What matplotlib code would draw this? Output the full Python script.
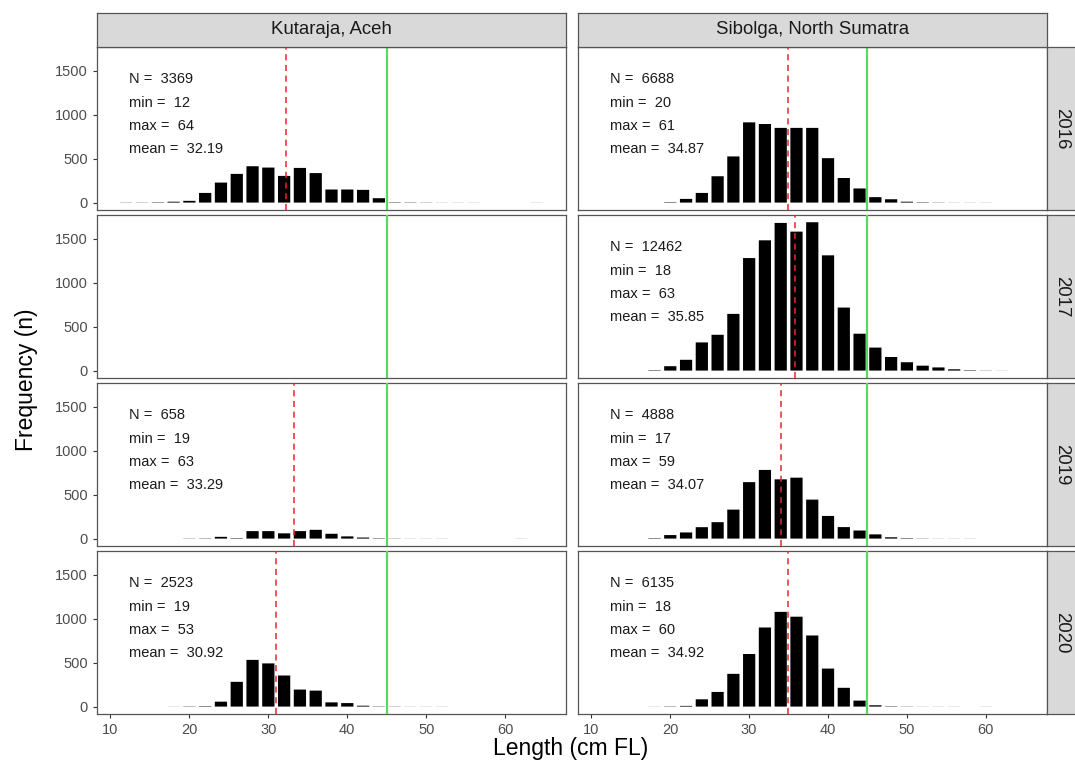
import matplotlib.pyplot as plt

plt.rcParams['font.family'] = ['Liberation Sans', 'DejaVu Sans']

W, H = 1075, 769

sites = ["Kutaraja, Aceh", "Sibolga, North Sumatra"]
years = ["2016", "2017", "2019", "2020"]

# 2 cm length classes, mid points 12 .. 64
bin_mids = list(range(12, 66, 2))

kutaraja_2016 = [2, 2, 4, 10, 20, 110, 228, 327, 414, 399, 304, 395, 336, 149,
                 149, 145, 50, 4, 3, 2, 1, 1, 1, 0, 0, 0, 1]
kutaraja_2017 = []
kutaraja_2019 = [0, 0, 0, 0, 2, 3, 20, 5, 85, 85, 60, 85, 100, 55,
                 25, 12, 4, 2, 1, 1, 1, 0, 0, 0, 0, 1, 0]
kutaraja_2020 = [0, 0, 0, 1, 3, 5, 56, 282, 532, 492, 354, 194, 182, 48,
                 40, 10, 3, 2, 1, 1, 1, 0, 0, 0, 0, 0, 0]
sibolga_2016 = [0, 0, 0, 0, 5, 42, 110, 300, 526, 914, 895, 851, 851, 851,
                506, 280, 161, 62, 38, 10, 4, 2, 1, 1, 1, 0, 0]
sibolga_2017 = [0, 0, 0, 5, 50, 123, 321, 408, 646, 1282, 1484, 1682, 1583, 1690,
                1313, 718, 420, 262, 155, 95, 56, 36, 15, 5, 2, 1, 0]
sibolga_2019 = [0, 0, 0, 5, 40, 70, 130, 187, 330, 643, 782, 675, 694, 444,
                258, 131, 92, 48, 15, 5, 2, 1, 1, 1, 0, 0, 0]
sibolga_2020 = [0, 0, 0, 1, 3, 8, 83, 167, 373, 599, 901, 1079, 1024, 810,
                433, 214, 68, 15, 4, 2, 1, 1, 1, 0, 1, 0, 0]

counts = {
    (0, 0): kutaraja_2016, (0, 1): kutaraja_2017, (0, 2): kutaraja_2019, (0, 3): kutaraja_2020,
    (1, 0): sibolga_2016, (1, 1): sibolga_2017, (1, 2): sibolga_2019, (1, 3): sibolga_2020,
}

# N, min, max, mean per panel (None = no data)
stats = {
    (0, 0): (3369, 12, 64, 32.19), (0, 1): None, (0, 2): (658, 19, 63, 33.29), (0, 3): (2523, 19, 53, 30.92),
    (1, 0): (6688, 20, 61, 34.87), (1, 1): (12462, 18, 63, 35.85), (1, 2): (4888, 17, 59, 34.07),
    (1, 3): (6135, 18, 60, 34.92),
}

lm = 45  # reference length (green line)

cols_px = [(97, 566), (578, 1046.5)]
rows_px = [(47, 210), (215, 378), (383, 546), (551, 714)]


def rect(x0, y0, x1, y1):
    return [x0 / W, 1 - y1 / H, (x1 - x0) / W, (y1 - y0) / H]


fig = plt.figure(figsize=(W / 100, H / 100), dpi=100)
border = '#555555'

for ci, (x0, x1) in enumerate(cols_px):
    for ri, (y0, y1) in enumerate(rows_px):
        ax = fig.add_axes(rect(x0, y0, x1, y1))
        c = counts[(ci, ri)]
        if c:
            bars = ax.bar(bin_mids, c, width=1.55, color='black', linewidth=0)
            for b in bars:
                b.set_snap(False)
        st = stats[(ci, ri)]
        if st:
            n, mn, mx, mean = st
            ax.axvline(mean, color='#e8262b', ls=(0, (4, 3)), lw=1.1, zorder=3)
            labels = ["N =  %d" % n, "min =  %d" % mn, "max =  %d" % mx, "mean =  %.2f" % mean]
            for k, txt in enumerate(labels):
                ax.text(12.4, 1405 - k * 266, txt, fontsize=10.5, ha='left', va='center', color='#1a1a1a')
        ax.axvline(lm, color='#5fd65f', lw=1.6, zorder=3)
        ax.set_xlim(8.3, 67.7)
        ax.set_ylim(-84.4, 1772.4)
        ax.set_xticks([10, 20, 30, 40, 50, 60])
        ax.set_yticks([0, 500, 1000, 1500])
        for s in ax.spines.values():
            s.set_color(border)
            s.set_linewidth(0.9)
        ax.tick_params(colors='#333333', labelcolor='#4d4d4d', labelsize=10.5, length=3, width=0.8)
        if ci != 0:
            ax.tick_params(axis='y', left=False, labelleft=False)
        if ri != 3:
            ax.tick_params(axis='x', bottom=False, labelbottom=False)

    # top strip
    sax = fig.add_axes(rect(x0, 13, x1, 47))
    sax.set_facecolor('#d9d9d9')
    sax.set_xticks([])
    sax.set_yticks([])
    for s in sax.spines.values():
        s.set_color(border)
        s.set_linewidth(0.9)
    sax.text(0.5, 0.5, sites[ci], transform=sax.transAxes, ha='center', va='center',
             fontsize=13.4, color='#1a1a1a')

# right strips
for ri, (y0, y1) in enumerate(rows_px):
    sax = fig.add_axes(rect(1046.5, y0, 1080, y1))
    sax.set_facecolor('#d9d9d9')
    sax.set_xticks([])
    sax.set_yticks([])
    for s in sax.spines.values():
        s.set_color(border)
        s.set_linewidth(0.9)
    sax.text(0.45, 0.5, years[ri], transform=sax.transAxes, ha='center', va='center',
             rotation=-90, fontsize=13.4, color='#1a1a1a')

fig.text(571 / W, 1 - 748 / H, "Length (cm FL)", ha='center', va='center', fontsize=16.5)
fig.text(27 / W, 1 - 380 / H, "Frequency (n)", ha='center', va='center', rotation=90, fontsize=16.5)

fig.savefig("out.png", dpi=100)
